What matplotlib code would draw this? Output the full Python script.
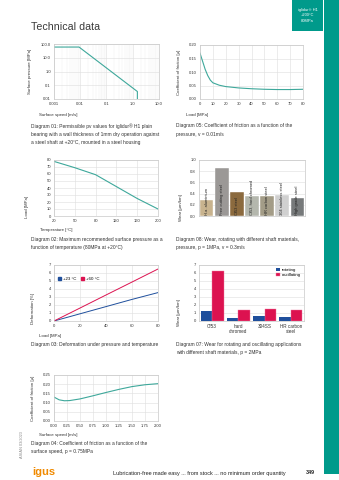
import matplotlib
matplotlib.use("Agg")
import matplotlib.pyplot as plt
from matplotlib.patches import Patch, Rectangle
from matplotlib.ticker import NullFormatter

plt.rcParams["font.family"] = ["Liberation Sans", "DejaVu Sans"]

# --- diagram 01: pv limits (log/log)
pv_speed = [0.001, 0.009, 1.5, 1.5]
pv_pressure = [60, 60, 0.035, 0.01]
pv_xticks = [0.001, 0.01, 0.1, 1, 10]
pv_xlabels = ["0.001", "0.01", "0.1", "1.0", "10.0"]
pv_yticks = [0.01, 0.1, 1, 10, 100]
pv_ylabels = ["0.01", "0.1", "1.0", "10.0", "100.0"]

# --- diagram 05: friction vs load
load = [0, 2, 4, 6, 8, 10, 15, 20, 30, 40, 50, 60, 70, 80]
mu_load = [0.17, 0.14, 0.11, 0.087, 0.07, 0.06, 0.051, 0.046, 0.041, 0.038, 0.036, 0.035, 0.035, 0.036]

# --- diagram 02: max pressure vs temperature
temps = ["20", "50", "80", "120", "160", "200"]
max_load = [78, 69, 59, 42, 25, 10]

# --- diagram 08: wear, rotating, shaft materials
shafts = ["H.a. aluminium", "Free cutting steel", "Cf53 steel", "Cf53, hard chromed",
          "HR carbon steel", "304 stainless steel", "High grade steel"]
shaft_wear = [0.28, 0.85, 0.42, 0.35, 0.35, 0.37, 0.32]
shaft_colors = ["#c8b38e", "#9b9896", "#8b6a3e", "#b4b7ad", "#a39c87", "#d0d0d0", "#76797a"]

# --- diagram 03: deformation
deform_load = [0, 20, 40, 60, 80]
deform_23 = [0, 0.9, 1.8, 2.7, 3.55]
deform_60 = [0, 1.62, 3.25, 4.87, 6.5]

# --- diagram 07: rotating vs oscillating
wear_mats = ["Cf53", "hard\nchromed", "304SS", "HR carbon\nsteel"]
wear_rot = [1.25, 0.4, 0.65, 0.5]
wear_osc = [6.25, 1.4, 1.45, 1.35]

# --- diagram 04: friction vs surface speed
speed = [0, 0.1, 0.2, 0.3, 0.5, 0.75, 1.0, 1.25, 1.5, 1.75, 2.0]
mu_speed = [0.13, 0.115, 0.11, 0.111, 0.12, 0.137, 0.155, 0.172, 0.187, 0.197, 0.203]
speed_ticks = [0, 0.25, 0.5, 0.75, 1.0, 1.25, 1.5, 1.75, 2.0]

W, H = 339, 480
TEAL = "#009a8b"
LINE = "#3ea89b"
GRID = "#dedede"
TXT = "#333333"
BLUE = "#1f4f9c"
RED = "#dc1250"
TICK_FS = 3.0
LAB_FS = 3.2
CAP_FS = 3.55

fig = plt.figure(figsize=(W / 100, H / 100), dpi=100)


def box(l, t, r, b):
    return fig.add_axes([l / W, 1 - b / H, (r - l) / W, (b - t) / H])


def txt(x, y, s, **kw):
    kw.setdefault("fontsize", CAP_FS)
    kw.setdefault("color", TXT)
    kw.setdefault("va", "center")
    fig.text(x / W, 1 - y / H, s, **kw)


def style(ax, xgrid=True, ygrid=True):
    for sp in ax.spines.values():
        sp.set_color("#c8c8c8")
        sp.set_linewidth(0.5)
    ax.tick_params(length=0, labelsize=TICK_FS, colors=TXT, pad=2.2)
    if xgrid:
        ax.grid(axis="x", color=GRID, lw=0.4)
    if ygrid:
        ax.grid(axis="y", color=GRID, lw=0.4)
    ax.set_axisbelow(True)


# page decoration
fig.patches.append(Rectangle((324 / W, 1 - 474 / H), 15 / W, 474 / H,
                             transform=fig.transFigure, color=TEAL, lw=0))
fig.patches.append(Rectangle((292 / W, 1 - 31 / H), 31 / W, 31 / H,
                             transform=fig.transFigure, color=TEAL, lw=0))
txt(307.5, 9.7, "iglidur® H1", fontsize=2.9, color="white", ha="center")
txt(307.5, 15.3, "+200°C", fontsize=2.9, color="white", ha="center")
txt(307.5, 21.5, "80MPa", fontsize=2.9, color="white", ha="center")
txt(31, 27, "Technical data", fontsize=7.7, color="#3a3a3a", ha="left")

# diagram 01
ax = box(54, 44, 159, 99)
style(ax, xgrid=False, ygrid=False)
ax.set_xscale("log")
ax.set_yscale("log")
ax.grid(axis="x", which="major", color=GRID, lw=0.4)
ax.grid(axis="x", which="minor", color="#ececec", lw=0.3)
ax.grid(axis="y", which="major", color=GRID, lw=0.4)
ax.plot(pv_speed, pv_pressure, color=LINE, lw=0.8)
ax.set_xlim(0.001, 10)
ax.set_ylim(0.01, 100)
ax.set_xticks(pv_xticks)
ax.set_xticklabels(pv_xlabels)
ax.set_yticks(pv_yticks)
ax.set_yticklabels(pv_ylabels)
ax.xaxis.set_minor_formatter(NullFormatter())
ax.yaxis.set_minor_formatter(NullFormatter())
ax.tick_params(which="minor", length=0)
txt(30, 71.5, "Surface pressure [MPa]", fontsize=LAB_FS, rotation=90, ha="center")
txt(39, 115, "Surface speed [m/s]", fontsize=LAB_FS, ha="left")
txt(31, 126, "Diagram 01: Permissible pv values for iglidur® H1 plain", ha="left")
txt(31, 134.3, "bearing with a wall thickness of 1mm dry operation against", ha="left")
txt(31, 142.5, "a steel shaft at +20°C, mounted in a steel housing", ha="left")

# diagram 05
ax = box(200, 45, 303, 99)
style(ax)
ax.plot(load, mu_load, color=LINE, lw=0.8)
ax.set_xlim(0, 80)
ax.set_ylim(0, 0.20)
ax.set_xticks(range(0, 81, 10))
ax.set_yticks([0, 0.05, 0.10, 0.15, 0.20])
ax.set_yticklabels(["0.00", "0.05", "0.10", "0.15", "0.20"])
txt(179, 72, "Coefficient of friction [µ]", fontsize=LAB_FS, rotation=90, ha="center")
txt(186, 115, "Load [MPa]", fontsize=LAB_FS, ha="left")
txt(176, 126, "Diagram 05: Coefficient of friction as a function of the", ha="left")
txt(176, 134.3, "pressure, v = 0.01m/s", ha="left")

# diagram 02
ax = box(54, 160, 158, 216)
style(ax)
ax.plot(range(len(temps)), max_load, color=LINE, lw=0.8)
ax.set_xlim(0, len(temps) - 1)
ax.set_ylim(0, 80)
ax.set_xticks(range(len(temps)))
ax.set_xticklabels(temps)
ax.set_yticks(range(0, 81, 10))
txt(27, 207, "Load [MPa]", fontsize=LAB_FS, rotation=90, ha="center")
txt(40, 230, "Temperature [°C]", fontsize=LAB_FS, ha="left")
txt(31, 239.3, "Diagram 02: Maximum recommended surface pressure as a", ha="left")
txt(31, 247.5, "function of temperature (80MPa at +20°C)", ha="left")

# diagram 08
ax = box(199, 160, 305, 216)
style(ax, xgrid=False)
xs = range(len(shafts))
ax.bar(xs, shaft_wear, width=0.9, color=shaft_colors, edgecolor="white", lw=0.3)
for x, name in zip(xs, shafts):
    ax.text(x, 0.025, name, rotation=90, ha="center", va="bottom",
            fontsize=2.9, color="#222222")
ax.set_xlim(-0.5, len(shafts) - 0.5)
ax.set_ylim(0, 1.0)
ax.set_xticks([])
ax.set_yticks([0, 0.2, 0.4, 0.6, 0.8, 1.0])
ax.set_yticklabels(["0.0", "0.2", "0.4", "0.6", "0.8", "1.0"])
txt(181, 208, "Wear [µm/km]", fontsize=LAB_FS, rotation=90, ha="center")
txt(176, 239.3, "Diagram 08: Wear, rotating with different shaft materials,", ha="left")
txt(176, 247.5, "pressure, p = 1MPa, v = 0.3m/s", ha="left")

# diagram 03
ax = box(54, 265, 158, 321)
style(ax)
ax.plot(deform_load, deform_23, color=BLUE, lw=0.7)
ax.plot(deform_load, deform_60, color=RED, lw=0.7)
ax.set_xlim(0, 80)
ax.set_ylim(0, 7)
ax.set_xticks(range(0, 81, 20))
ax.set_yticks(range(0, 8))
ax.legend(handles=[Patch(color=BLUE, label="+23 °C"), Patch(color=RED, label="+60 °C")],
          loc="center left", bbox_to_anchor=(0.02, 0.75), ncol=2, frameon=False,
          fontsize=3.2, handlelength=0.8, handleheight=0.8, handletextpad=0.4,
          columnspacing=0.9, borderaxespad=0)
txt(33, 308, "Deformation [%]", fontsize=LAB_FS, rotation=90, ha="center")
txt(39, 336, "Load [MPa]", fontsize=LAB_FS, ha="left")
txt(31, 344.3, "Diagram 03: Deformation under pressure and temperature", ha="left")

# diagram 07
ax = box(199, 265, 304, 321)
style(ax, xgrid=False)
xs = list(range(len(wear_mats)))
bw = 0.44
ax.bar([x - bw / 2 for x in xs], wear_rot, width=bw, color=BLUE, label="rotating")
ax.bar([x + bw / 2 for x in xs], wear_osc, width=bw, color=RED, edgecolor="#f07aa0",
       lw=0.3, label="oscillating")
ax.set_xlim(-0.5, len(wear_mats) - 0.5)
ax.set_ylim(0, 7)
ax.set_xticks(xs)
ax.set_xticklabels(wear_mats, linespacing=1.1)
ax.tick_params(axis="x", labelsize=3.3)
ax.set_yticks(range(0, 8))
ax.legend(loc="upper right", bbox_to_anchor=(0.99, 0.98), frameon=False, fontsize=3.2,
          handlelength=0.8, handleheight=0.8, handletextpad=0.5, labelspacing=0.15,
          borderaxespad=0)
txt(179, 313, "Wear [µm/km]", fontsize=LAB_FS, rotation=90, ha="center")
txt(176, 344.3, "Diagram 07: Wear for rotating and oscillating applications", ha="left")
txt(176, 352.5, "with different shaft materials, p = 2MPa", ha="left")

# diagram 04
ax = box(54, 375, 158, 421)
style(ax)
ax.plot(speed, mu_speed, color=LINE, lw=0.8)
ax.set_xlim(0, 2.0)
ax.set_ylim(0, 0.25)
ax.set_xticks(speed_ticks)
ax.set_xticklabels([f"{v:.2f}" for v in speed_ticks])
ax.set_yticks([0, 0.05, 0.10, 0.15, 0.20, 0.25])
ax.set_yticklabels(["0.00", "0.05", "0.10", "0.15", "0.20", "0.25"])
txt(33, 398, "Coefficient of friction [µ]", fontsize=LAB_FS, rotation=90, ha="center")
txt(39, 435, "Surface speed [m/s]", fontsize=LAB_FS, ha="left")
txt(31, 443.3, "Diagram 04: Coefficient of friction as a function of the", ha="left")
txt(31, 451.7, "surface speed, p = 0.75MPa", ha="left")

# footer
txt(22, 445, "ASIAN 03/2023", fontsize=2.8, color="#8a8a8a", rotation=90, ha="center")
txt(32, 472, "igus", fontsize=8, color="#f08a00", ha="left", fontweight="bold")
txt(113, 473, "Lubrication-free made easy ... from stock ... no minimum order quantity",
    fontsize=4.0, color="#222222", ha="left")
txt(306, 473, "349", fontsize=3.9, color="#222222", ha="left", fontweight="bold")

fig.savefig("out.png", dpi=100, facecolor="white")
